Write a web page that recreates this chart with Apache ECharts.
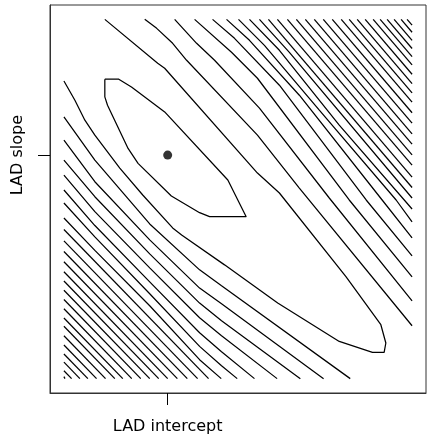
<!DOCTYPE html>
<html>
<head>
<meta charset="utf-8">
<script src="https://cdn.jsdelivr.net/npm/echarts@6/dist/echarts.min.js"></script>
<style>
  html, body { margin: 0; padding: 0; background: #fff; }
  #chart { width: 427px; height: 439px; }
</style>
</head>
<body>
<div id="chart"></div>
<script>
// ---- Data (arbitrary intercept / slope units; contour grid spans 0..349 x 0..360) ----
const gridXMin = 0, gridXMax = 349, gridYMin = 0, gridYMax = 360;

// LAD estimate (the dot and the single tick on each axis)
const ladEstimate = [104, 224];
const xTickLabels = ['LAD intercept'];
const yTickLabels = ['LAD slope'];

// Innermost closed contour
const innerContour = [[41,300],[55,300],[67.7,292.3],[101,267.3],[164.3,199],[182.7,162.3],
  [146,162.3],[136,166.3],[107.7,183],[74.3,215.7],[64.3,230.7],[43.7,274],[41,282.3],[41,300]];

// Second contour: elongated, enters at top, turns near the lower right, leaves at the left
const valleyContour = [[41,360],[94,316],[101,311],[194,206],[216,186],[282.7,102.3],[317.7,54],
  [322.7,35.7],[321,26.3],[309.3,26.3],[276,37.3],[214.3,75.7],[161,114],[118,144],[109,151],
  [79,184],[56,211],[31,244],[21,259],[11,279],[0,298.3]];

// Upper-right contours that bend (top edge -> right edge)
const upperBent = [
  [[81,360],[93,351],[109,336],[123,319],[194,244],[236,191],[349,53]],
  [[111,360],[133,336],[151,319],[196,271],[266,181],[349,78]],
  [[131,360],[168,327],[194,301],[286,179],[349,102]],
  [[149,360],[171,341],[216,294],[303,179],[349,123]],
  [[163,360],[186,339],[236,284],[319,179],[349,141]],
  [[175,360],[201,334],[256,269],[333,179],[349,157]],
  [[186,360],[216,329],[276,254],[349,170]],
  [[196,360],[226,327],[349,181]]
];
// Upper-right straight contours: where they leave the top edge and meet the right edge
const upperStartX = [205,214,224,233,242,251,260,269,278,286,294,302,310,317,324,331,338,344];
const upperEndY   = [191.5,202,214,224.3,235,245.3,256,266.4,277,286.3,295.6,305,314.4,322.6,330.8,339,347.1,354.2];

// Lower-left contours that bend (left edge -> bottom edge)
const lowerBent = [
  [[0,262.3],[31,219],[86,155],[136,109],[158,93],[287,0]],
  [[0,239],[31,197.3],[86,139],[136,90.7],[158,75],[260.3,0]],
  [[0,219],[31,182.3],[86,125],[136,75.7],[158,58],[237,0]],
  [[0,204],[31,167.3],[86,111],[136,61],[158,43],[213.7,0]],
  [[0,189],[31,153.4],[86,97],[136,46],[158,27],[191,0]],
  [[0,176],[31,142],[86,85],[136,32.3],[158,13],[173.7,0]],
  [[0,161],[31,128.5],[86,73],[136,19],[157.7,0]]
];
// Lower-left straight contours: where they meet the left edge and the bottom edge
const lowerStartY = [149.4,138,127.4,117.1,107.1,97.8,88.6,79.3,70,60.8,52.5,43,33.7,24.7,16.5,7.9,2];
const lowerEndX   = [145,134,123.7,113.7,104,95,86,77,68,59,51,41.7,32.7,24,16,7.7,1];

// ---- Build series ----
const lineStyle = { color: '#000', width: 1.25 };
function contourSeries(points) {
  return {
    type: 'line', data: points, showSymbol: false, symbol: 'none',
    lineStyle: lineStyle, silent: true, animation: false, z: 2
  };
}
const series = [];
series.push(contourSeries(innerContour));
series.push(contourSeries(valleyContour));
upperBent.forEach(p => series.push(contourSeries(p)));
upperStartX.forEach((x, i) => series.push(contourSeries([[x, gridYMax], [gridXMax, upperEndY[i]]])));
lowerBent.forEach(p => series.push(contourSeries(p)));
lowerStartY.forEach((y, i) => series.push(contourSeries([[gridXMin, y], [lowerEndX[i], gridYMin]])));
series.push({
  type: 'scatter', data: [ladEstimate], symbol: 'circle', symbolSize: 9,
  itemStyle: { color: '#000' }, silent: true, animation: false, z: 5
});

const padX = (gridXMax - gridXMin) * 0.04, padY = (gridYMax - gridYMin) * 0.04;
const font = "'DejaVu Sans', sans-serif";
const frameColor = '#333';

const chart = echarts.init(document.getElementById('chart'), null, { renderer: 'canvas' });
chart.setOption({
  animation: false,
  backgroundColor: '#fff',
  grid: { left: 50, top: 5, width: 376, height: 388, show: true, borderColor: frameColor, borderWidth: 1 },
  xAxis: {
    type: 'value', min: gridXMin - padX, max: gridXMax + padX, position: 'bottom',
    axisLine: { show: true, onZero: false, lineStyle: { color: frameColor, width: 1 } },
    splitLine: { show: false },
    axisTick: { show: true, inside: false, length: 12, customValues: [ladEstimate[0]], lineStyle: { color: '#000' } },
    axisLabel: {
      show: true, inside: false, customValues: [ladEstimate[0]], formatter: () => xTickLabels[0],
      margin: 26, fontSize: 16, color: '#000', fontFamily: font
    }
  },
  yAxis: {
    type: 'value', min: gridYMin - padY, max: gridYMax + padY, position: 'left',
    axisLine: { show: true, onZero: false, lineStyle: { color: frameColor, width: 1 } },
    splitLine: { show: false },
    axisTick: { show: true, inside: false, length: 12, customValues: [ladEstimate[1]], lineStyle: { color: '#000' } },
    axisLabel: {
      show: true, inside: false, customValues: [ladEstimate[1]], formatter: () => yTickLabels[0],
      rotate: 90, margin: 24, fontSize: 16, color: '#000', fontFamily: font
    }
  },
  series: series
});
</script>
</body>
</html>
